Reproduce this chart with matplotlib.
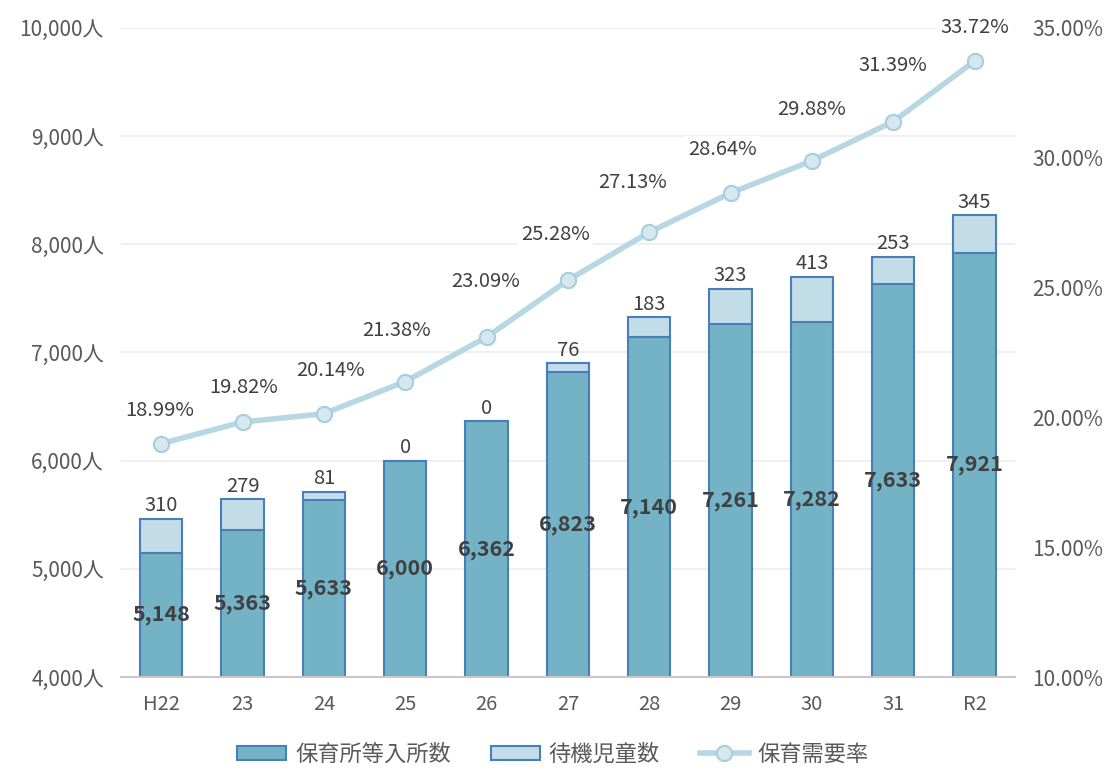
import matplotlib.pyplot as plt
import numpy as np

plt.rcParams['font.family'] = ['Noto Sans CJK JP', 'DejaVu Sans']

years = ["H22", "23", "24", "25", "26", "27", "28", "29", "30", "31", "R2"]
enrolled = [5148, 5363, 5633, 6000, 6362, 6823, 7140, 7261, 7282, 7633, 7921]
waiting = [310, 279, 81, 0, 0, 76, 183, 323, 413, 253, 345]
demand_rate = [18.99, 19.82, 20.14, 21.38, 23.09, 25.28, 27.13, 28.64, 29.88, 31.39, 33.72]

# label nudges for the rate labels (points), as placed in the original
rate_dx = [-1, 1, 5, -6, -1, -9, -12, -6, 0, 0, 0]
rate_dy = [24, 25, 31, 37, 40, 33, 36, 31, 37, 40, 24]

main_color = "#74b3c5"
wait_color = "#c3dde8"
edge_color = "#4a7ebb"
line_color = "#b7d7e3"
text_color = "#595959"
label_color = "#404040"

fig, ax = plt.subplots(figsize=(11.06, 7.72), dpi=100)
fig.subplots_adjust(left=0.109, right=0.918, top=0.964, bottom=0.123)

x = np.arange(len(years))
w = 0.52
# bars start at 4000 because the axis starts there
ax.bar(x, [e - 4000 for e in enrolled], w, bottom=4000, color=main_color, edgecolor=edge_color,
       linewidth=1.5, zorder=2, label="保育所等入所数")
ax.bar(x, waiting, w, bottom=enrolled, color=wait_color, edgecolor=edge_color,
       linewidth=1.5, zorder=2, label="待機児童数")

ax.set_ylim(4000, 10000)
ax.set_xlim(-0.5, len(years) - 0.5)
ax.set_yticks(range(4000, 10001, 1000))
ax.set_yticklabels([f"{v:,}人" for v in range(4000, 10001, 1000)])
ax.set_xticks(x)
ax.set_xticklabels(years)
ax.grid(axis="y", color="#ececec", linewidth=1.2, zorder=0)
ax.set_axisbelow(True)
for s in ["top", "right", "left"]:
    ax.spines[s].set_visible(False)
ax.spines["bottom"].set_color("#c8c8c8")
ax.spines["bottom"].set_linewidth(1.5)
ax.tick_params(axis="y", length=0, labelsize=15, colors=text_color, pad=12)
ax.tick_params(axis="x", length=0, labelsize=14.5, colors=text_color, pad=12)

for i in range(len(years)):
    ax.text(x[i], (4000 + enrolled[i]) / 2, f"{enrolled[i]:,}", ha="center", va="center",
            fontsize=15.5, fontweight="bold", color=label_color, zorder=5)
    ax.annotate(f"{waiting[i]:,}", (x[i], enrolled[i] + waiting[i]), xytext=(0, 2),
                textcoords="offset points", ha="center", va="bottom",
                fontsize=14.5, color=label_color, zorder=5)

ax2 = ax.twinx()
ax2.set_ylim(10, 35)
ax2.set_yticks(range(10, 36, 5))
ax2.set_yticklabels([f"{v:.2f}%" for v in range(10, 36, 5)])
for s in ax2.spines.values():
    s.set_visible(False)
ax2.tick_params(length=0, labelsize=15, colors=text_color, pad=12)
ax2.plot(x, demand_rate, color=line_color, linewidth=4, marker="o", markersize=11,
         markerfacecolor="#d5e8ef", markeredgecolor="#a8cedc", markeredgewidth=1.5,
         zorder=3, label="保育需要率")
for i in range(len(years)):
    ax2.annotate(f"{demand_rate[i]:.2f}%", (x[i], demand_rate[i]), xytext=(rate_dx[i], rate_dy[i]),
                 textcoords="offset points", ha="center", va="center", fontsize=14.5, color=label_color,
                 bbox=dict(boxstyle="square,pad=0.15", fc="white", ec="none"), zorder=2)

h1, l1 = ax.get_legend_handles_labels()
h2, l2 = ax2.get_legend_handles_labels()
fig.legend(h1 + h2, l1 + l2, loc="lower center", bbox_to_anchor=(0.5, -0.018), ncol=3, frameon=False,
           fontsize=16, labelcolor=text_color, handlelength=2.2, handleheight=0.6,
           columnspacing=1.8, handletextpad=0.4)

fig.savefig("out.png", dpi=100)
